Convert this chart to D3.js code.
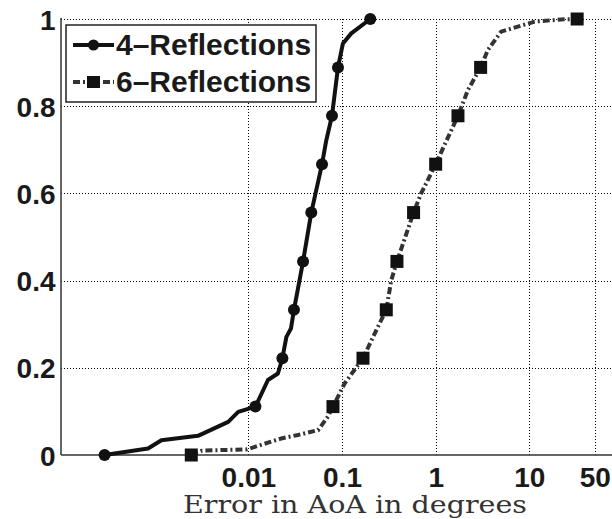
<!DOCTYPE html>
<html>
<head>
<meta charset="utf-8">
<script src="https://cdn.jsdelivr.net/npm/d3@7.9.0/dist/d3.min.js"></script>
<style>
  html, body { margin: 0; padding: 0; background: #fff; }
  svg { display: block; }
  .tick text { font-family: "Liberation Sans", Arial, sans-serif; font-weight: bold; font-size: 28px; fill: #1a1a1a; }
</style>
</head>
<body>
<svg id="chart" width="612" height="519"></svg>
<script>
// ---- data (x = error in degrees, y = CDF) ----
const xTicks = [0.01, 0.1, 1, 10, 50];
const yTicks = [0, 0.2, 0.4, 0.6, 0.8, 1];
const seriesNames = ['4–Reflections', '6–Reflections'];

const line4 = [
  [2.92e-4, 0], [8.5e-4, 0.015], [1.18e-3, 0.034], [2.9e-3, 0.044], [6.1e-3, 0.076],
  [7.8e-3, 0.099], [0.0119, 0.111], [0.0162, 0.172], [0.0207, 0.187], [0.0231, 0.222],
  [0.0255, 0.271], [0.0285, 0.29], [0.0307, 0.333], [0.0384, 0.444], [0.047, 0.556],
  [0.0612, 0.667], [0.068, 0.722], [0.0782, 0.778], [0.0906, 0.889], [0.1023, 0.944],
  [0.1256, 0.967], [0.2004, 1.0]
];
const markers4 = [
  [2.92e-4, 0], [0.0119, 0.111], [0.0231, 0.222], [0.0307, 0.333], [0.0384, 0.444],
  [0.047, 0.556], [0.0612, 0.667], [0.0782, 0.778], [0.0906, 0.889], [0.2004, 1.0]
];

const line6 = [
  [2.46e-3, 0], [3.2e-3, 0.01], [0.0097, 0.013], [0.0225, 0.038], [0.034, 0.046],
  [0.0555, 0.057], [0.0708, 0.088], [0.0801, 0.111], [0.1066, 0.164], [0.1675, 0.222],
  [0.242, 0.294], [0.297, 0.333], [0.336, 0.401], [0.386, 0.444], [0.581, 0.556],
  [0.70, 0.6], [1.0, 0.667], [1.73, 0.778], [2.21, 0.837], [3.02, 0.889],
  [3.61, 0.929], [5.0, 0.971], [11.4, 0.994], [21.9, 0.999], [32.4, 1.0]
];
const markers6 = [
  [2.46e-3, 0], [0.0801, 0.111], [0.1675, 0.222], [0.297, 0.333], [0.386, 0.444],
  [0.581, 0.556], [1.0, 0.667], [1.73, 0.778], [3.02, 0.889], [32.4, 1.0]
];

// ---- layout ----
const svg = d3.select('#chart');
const plotLeft = 61, plotRight = 623, plotTop = 19, plotBottom = 455;

const x = d3.scaleLog().domain([1e-4, 100]).range([plotLeft, plotRight]);
const y = d3.scaleLinear().domain([0, 1]).range([plotBottom, plotTop]);

// grid + tick labels via axes
const xAxis = svg.append('g')
  .attr('transform', `translate(0,${plotBottom})`)
  .call(d3.axisBottom(x).tickValues(xTicks).tickSize(-(plotBottom - plotTop)).tickPadding(32)
    .tickFormat(d => String(d)));
xAxis.select('.domain').remove();
xAxis.selectAll('.tick line')
  .attr('stroke', '#000').attr('stroke-width', 1).attr('stroke-dasharray', '1,2')
  .attr('shape-rendering', 'crispEdges');
xAxis.selectAll('.tick text').attr('dy', 0).attr('y', 32);

const yAxis = svg.append('g')
  .attr('transform', `translate(${plotLeft},0)`)
  .call(d3.axisLeft(y).tickValues(yTicks).tickSize(-(612 - plotLeft)).tickPadding(6)
    .tickFormat(d => String(d)));
yAxis.select('.domain').remove();
yAxis.selectAll('.tick line')
  .attr('stroke', '#000').attr('stroke-width', 1).attr('stroke-dasharray', '1,2')
  .attr('shape-rendering', 'crispEdges');
yAxis.selectAll('.tick').filter(d => d === 0).select('line').remove();
yAxis.selectAll('.tick text').attr('dy', '0.36em').attr('x', -5.5);

// axis lines (left + bottom only)
svg.append('line').attr('x1', plotLeft).attr('x2', plotLeft).attr('y1', plotTop - 1).attr('y2', plotBottom)
  .attr('stroke', '#333').attr('stroke-width', 1.5);
svg.append('line').attr('x1', plotLeft).attr('x2', 612).attr('y1', plotBottom).attr('y2', plotBottom)
  .attr('stroke', '#333').attr('stroke-width', 1.5);

// x label
svg.append('text')
  .attr('x', 183).attr('y', 513)
  .attr('textLength', 344).attr('lengthAdjust', 'spacingAndGlyphs')
  .style('font-family', '"DejaVu Serif", "Liberation Serif", serif')
  .style('font-size', '25px')
  .style('fill', '#333')
  .text('Error in AoA in degrees');

// series
const line = d3.line().x(d => x(d[0])).y(d => y(d[1]));

svg.append('path').datum(line6).attr('d', line)
  .attr('fill', 'none').attr('stroke', '#333').attr('stroke-width', 4)
  .attr('stroke-dasharray', '7,3,2,3');
svg.append('g').selectAll('rect').data(markers6).join('rect')
  .attr('x', d => x(d[0]) - 6.5).attr('y', d => y(d[1]) - 6.5)
  .attr('width', 13).attr('height', 13).attr('fill', '#111');

svg.append('path').datum(line4).attr('d', line)
  .attr('fill', 'none').attr('stroke', '#111').attr('stroke-width', 4)
  .attr('stroke-linejoin', 'round');
svg.append('g').selectAll('circle').data(markers4).join('circle')
  .attr('cx', d => x(d[0])).attr('cy', d => y(d[1])).attr('r', 6).attr('fill', '#111');

// legend
const lg = svg.append('g');
lg.append('rect').attr('x', 66).attr('y', 25).attr('width', 250).attr('height', 77)
  .attr('fill', '#fff').attr('stroke', '#222').attr('stroke-width', 1.5);
const rows = [
  { name: seriesNames[0], cy: 45, dash: null, color: '#111', marker: 'circle' },
  { name: seriesNames[1], cy: 82, dash: '7,3,2,3', color: '#333', marker: 'square' }
];
rows.forEach(r => {
  lg.append('line').attr('x1', 73).attr('x2', 114).attr('y1', r.cy).attr('y2', r.cy)
    .attr('stroke', r.color).attr('stroke-width', 4)
    .attr('stroke-dasharray', r.dash);
  if (r.marker === 'circle') {
    lg.append('circle').attr('cx', 93.5).attr('cy', r.cy).attr('r', 5.5).attr('fill', '#111');
  } else {
    lg.append('rect').attr('x', 87).attr('y', r.cy - 6).attr('width', 13).attr('height', 12).attr('fill', '#111');
  }
  lg.append('text').attr('x', 116).attr('y', r.cy + 10)
    .style('font-family', '"Liberation Sans", Arial, sans-serif')
    .style('font-weight', 'bold').style('font-size', '30px').style('fill', '#1a1a1a')
    .text(r.name);
});
</script>
</body>
</html>
